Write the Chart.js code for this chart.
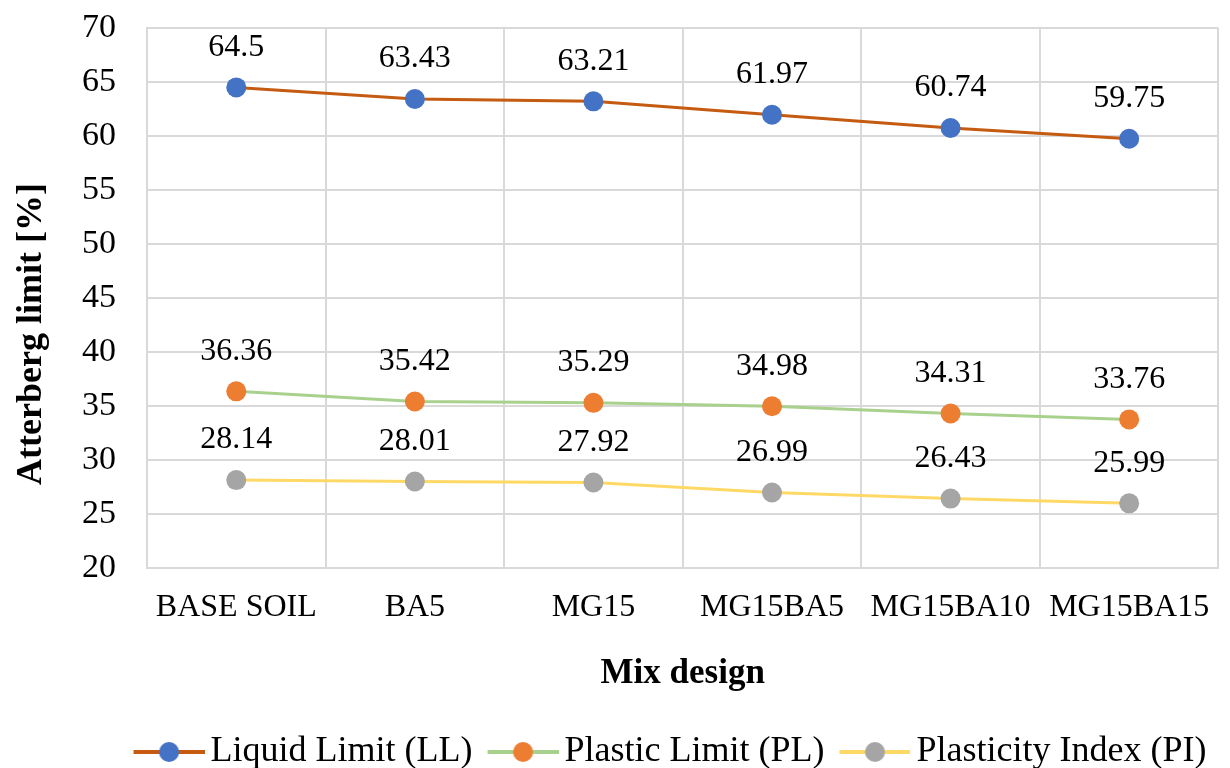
<!DOCTYPE html>
<html>
<head>
<meta charset="utf-8">
<script src="https://cdn.jsdelivr.net/npm/chart.js@4.4.1/dist/chart.umd.min.js"></script>
<style>
  html, body { margin: 0; padding: 0; background: #fff; }
</style>
</head>
<body>
<canvas id="chart" width="1230" height="768"></canvas>
<script>
const categories = ['BASE SOIL', 'BA5', 'MG15', 'MG15BA5', 'MG15BA10', 'MG15BA15'];
const liquidLimit = [64.5, 63.43, 63.21, 61.97, 60.74, 59.75];
const plasticLimit = [36.36, 35.42, 35.29, 34.98, 34.31, 33.76];
const plasticityIndex = [28.14, 28.01, 27.92, 26.99, 26.43, 25.99];
const yTicks = [20, 25, 30, 35, 40, 45, 50, 55, 60, 65, 70];

const SERIF = '"Liberation Serif", "Times New Roman", serif';
const GRID = '#d9d9d9';

Chart.defaults.font.family = SERIF;
Chart.defaults.color = '#000';

// legend key: a short line with the marker sitting on it
function legendSwatch(lineColor, markerColor) {
    const c = document.createElement('canvas');
    c.width = 94; c.height = 24;
    const g = c.getContext('2d');
    g.strokeStyle = lineColor;
    g.lineWidth = 4;
    g.beginPath(); g.moveTo(23, 12); g.lineTo(94, 12); g.stroke();
    g.fillStyle = markerColor;
    g.beginPath(); g.arc(58.5, 12, 10, 0, Math.PI * 2); g.fill();
    return c;
}

function series(label, data, lineColor, markerColor) {
    return {
        label, data,
        borderColor: lineColor,
        backgroundColor: markerColor,
        pointBackgroundColor: markerColor,
        pointBorderColor: markerColor,
        pointBorderWidth: 0,
        pointRadius: 10,
        borderWidth: 3,
        tension: 0,
        swatch: legendSwatch(lineColor, markerColor)
    };
}

// value written above every point
const pointLabels = {
    id: 'pointLabels',
    afterDatasetsDraw(chart) {
        const ctx = chart.ctx;
        ctx.save();
        ctx.font = '32px ' + SERIF;
        ctx.fillStyle = '#000';
        ctx.textAlign = 'center';
        ctx.textBaseline = 'middle';
        chart.data.datasets.forEach((ds, i) => {
            chart.getDatasetMeta(i).data.forEach((pt, j) => {
                ctx.fillText(String(ds.data[j]), pt.x, pt.y - 40);
            });
        });
        ctx.restore();
    }
};

// vertical axis title, sits a bit below the middle of the plot
const yTitle = {
    id: 'yTitle',
    afterDraw(chart) {
        const ctx = chart.ctx;
        ctx.save();
        ctx.translate(41, 334);
        ctx.rotate(-Math.PI / 2);
        ctx.font = 'bold 36px ' + SERIF;
        ctx.fillStyle = '#000';
        ctx.textAlign = 'center';
        ctx.textBaseline = 'alphabetic';
        ctx.fillText('Atterberg limit [%]', 0, 0);
        ctx.restore();
    }
};

// push the legend row a little right and down
const legendNudge = {
    id: 'legendNudge',
    afterLayout(chart) {
        const lg = chart.legend;
        lg.left += 50; lg.right += 50;
        lg.top += 12; lg.bottom += 12;
    }
};

new Chart(document.getElementById('chart'), {
    type: 'line',
    data: {
        labels: categories,
        datasets: [
            series('Liquid Limit (LL)', liquidLimit, '#C55A11', '#4472C4'),
            series('Plastic Limit (PL)', plasticLimit, '#A9D18E', '#ED7D31'),
            series('Plasticity Index (PI)', plasticityIndex, '#FFD966', '#A5A5A5')
        ]
    },
    options: {
        responsive: false,
        animation: false,
        layout: { padding: { top: 28, right: 1, left: 0, bottom: 0 } },
        scales: {
            x: {
                offset: true,
                grid: { offset: true, color: GRID, lineWidth: 2, drawTicks: false },
                border: { color: GRID, width: 2 },
                ticks: { font: { size: 32 }, padding: 20, maxRotation: 0, autoSkip: false },
                title: {
                    display: true, text: 'Mix design',
                    font: { size: 35, weight: 'bold' },
                    padding: { top: 0, bottom: 23 }
                },
                afterFit(s) { s.height = 150; }
            },
            y: {
                min: yTicks[0],
                max: yTicks[yTicks.length - 1],
                grid: { color: GRID, lineWidth: 2, drawTicks: false },
                border: { color: GRID, width: 2 },
                ticks: { stepSize: yTicks[1] - yTicks[0], font: { size: 34 }, padding: 31 },
                afterFit(s) {
                    s.width = 147;
                    // tick padding is horizontal only here, don't let it eat the top
                    s.paddingTop = 0;
                    s.paddingBottom = 0;
                }
            }
        },
        plugins: {
            tooltip: { enabled: false },
            legend: {
                position: 'bottom',
                labels: {
                    usePointStyle: true,
                    pointStyleWidth: 70,
                    padding: 4,
                    font: { size: 36 },
                    color: '#000',
                    generateLabels(chart) {
                        return Chart.defaults.plugins.legend.labels.generateLabels(chart).map(item => {
                            item.pointStyle = chart.data.datasets[item.datasetIndex].swatch;
                            return item;
                        });
                    }
                }
            }
        }
    },
    plugins: [pointLabels, yTitle, legendNudge]
});
</script>
</body>
</html>
